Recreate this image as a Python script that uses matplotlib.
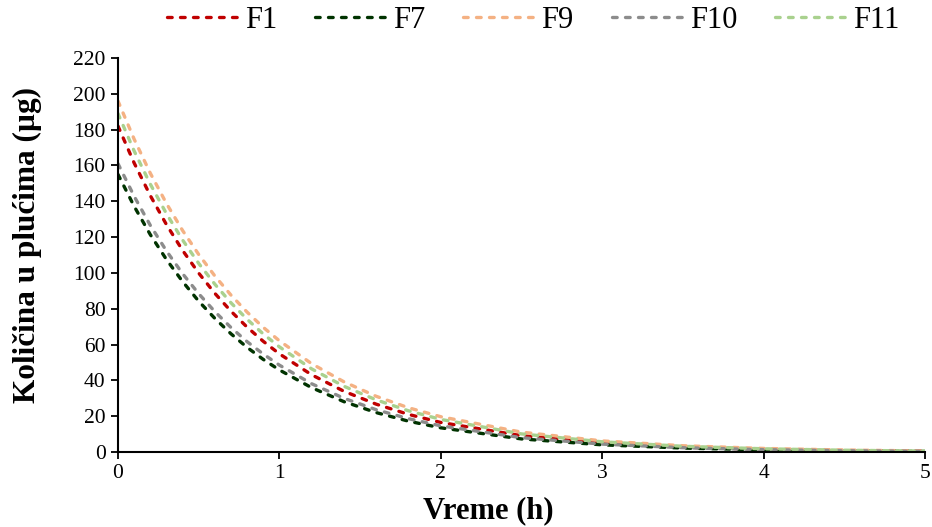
import matplotlib
matplotlib.use("Agg")
import matplotlib.pyplot as plt

# Time grid (h) and amounts (µg)
time_h = [0, 0.1, 0.2, 0.3, 0.4, 0.5, 0.6, 0.7, 0.8, 0.9, 1.0,
          1.2, 1.4, 1.6, 1.8, 2.0, 2.5, 3.0, 3.5, 4.0, 4.5, 5.0]

F1 = [182, 161.4, 143.2, 127.0, 112.6, 99.9, 88.6, 78.6, 69.7, 61.8, 54.8,
      43.1, 33.9, 26.7, 21.0, 16.5, 9.1, 5.0, 2.7, 1.5, 0.8, 0.5]
F7 = [155, 137.2, 121.4, 107.5, 95.2, 84.2, 74.6, 66.0, 58.4, 51.7, 45.8,
      35.9, 28.1, 22.0, 17.2, 13.5, 7.3, 4.0, 2.2, 1.2, 0.6, 0.3]
F9 = [196, 174.7, 155.7, 138.8, 123.7, 110.3, 98.3, 87.6, 78.1, 69.6, 62.1,
      49.3, 39.2, 31.1, 24.7, 19.7, 11.1, 6.2, 3.5, 2.0, 1.1, 0.6]
F10 = [161, 142.8, 126.6, 112.3, 99.6, 88.4, 78.4, 69.5, 61.6, 54.7, 48.5,
       38.1, 30.0, 23.6, 18.6, 14.6, 8.0, 4.4, 2.4, 1.3, 0.7, 0.4]
F11 = [189, 168.1, 149.6, 133.1, 118.4, 105.3, 93.7, 83.3, 74.1, 65.9, 58.7,
       46.4, 36.7, 29.1, 23.0, 18.2, 10.1, 5.7, 3.2, 1.8, 1.0, 0.5]

series_names = ["F1", "F7", "F9", "F10", "F11"]
series_values = [F1, F7, F9, F10, F11]
series_colors = ["#C00000", "#003300", "#F4B183", "#8C8C8C", "#A9D18E"]

x_ticks = [0, 1, 2, 3, 4, 5]
y_ticks = list(range(0, 221, 20))

plt.rcParams["font.family"] = ["Liberation Serif", "DejaVu Serif"]

fig = plt.figure(figsize=(9.32, 5.27), dpi=100)
ax = fig.add_axes([118 / 932, 1 - 452 / 527, 807 / 932, 394 / 527])

for name, vals, col in zip(series_names, series_values, series_colors):
    ax.plot(time_h, vals, color=col, linewidth=2.4,
            linestyle=(0, (1.4, 2.5)), dash_capstyle="round", label=name)

ax.set_xlim(0, 5)
ax.set_ylim(0, 220)
ax.set_xticks(x_ticks)
ax.set_yticks(y_ticks)
ax.tick_params(axis="both", direction="out", length=5, width=1.3,
               labelsize=15.5, colors="black", pad=4)
for s in ["top", "right"]:
    ax.spines[s].set_visible(False)
for s in ["left", "bottom"]:
    ax.spines[s].set_linewidth(1.5)
    ax.spines[s].set_color("black")

ax.set_xlabel("Vreme (h)", fontsize=22, fontweight="bold")
ax.set_ylabel("Količina u plućima (µg)", fontsize=22.5, fontweight="bold")
ax.xaxis.set_label_coords((488 - 118) / 807, -0.112)
ax.yaxis.set_label_coords((42 - 118) / 807, (452 - 245) / 394)

fig.legend(loc="center", bbox_to_anchor=(0.572, 0.962), ncol=5,
           frameon=False, fontsize=22, handlelength=2.3,
           handletextpad=0.25, columnspacing=1.25)

fig.savefig("out.png", dpi=100)
